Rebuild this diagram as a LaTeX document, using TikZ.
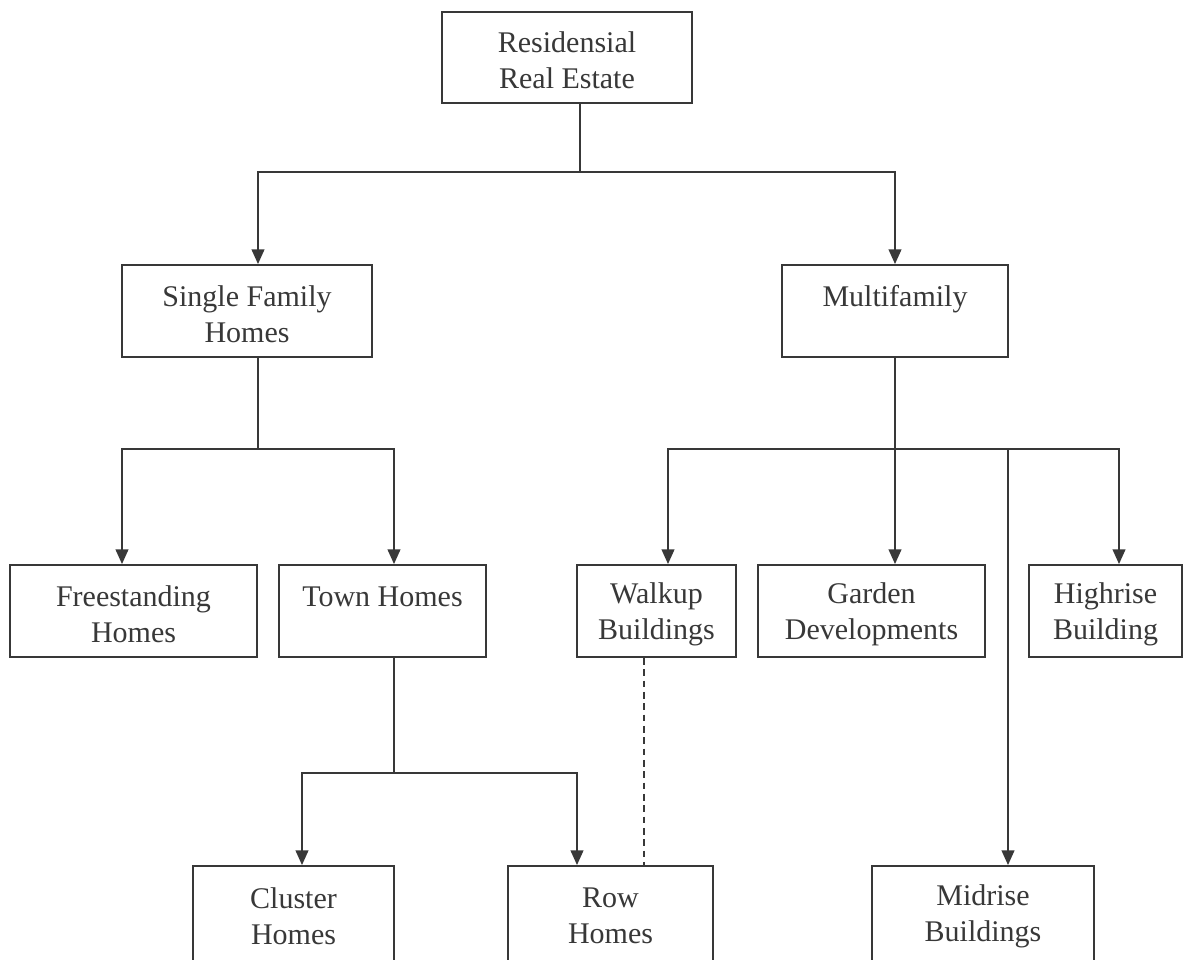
\documentclass[tikz,border=0pt]{standalone}
\usepackage{fontspec}
\setmainfont{Liberation Serif}
\usetikzlibrary{arrows.meta,calc}
\definecolor{ink}{HTML}{383838}
% taller first line, so that two-line labels sit a little low in their boxes
\newcommand\firstline{\rule{0pt}{20pt}}
\tikzset{
  box/.style={draw=ink, line width=1.4pt, rectangle, align=center, inner sep=0pt,
    text=ink, font=\fontsize{22.5}{27}\selectfont},
  link/.style={draw=ink, line width=1.4pt},
  arr/.style={link, -{Triangle[length=11pt,width=9.5pt]}},
  weak/.style={link, dash pattern=on 5pt off 3.5pt}
}
\begin{document}
\begin{tikzpicture}[x=0.75pt,y=-0.75pt]
  \clip (0,0) rectangle (1187,959);
  \fill[white] (0,0) rectangle (1187,959);

  % categories
  \node[box, minimum width=187.5pt, minimum height=68.25pt] (root) at (567,57.5) {\firstline Residensial\\Real Estate};
  \node[box, minimum width=187.5pt, minimum height=69pt] (sf) at (247,311) {\firstline Single Family\\Homes};
  \node[box, minimum width=169.5pt, minimum height=69pt] (mf) at (895,311) {\firstline Multifamily\\~};

  \node[box, minimum width=185.25pt, minimum height=69pt] (free) at (133.5,611) {\firstline Freestanding\\Homes};
  \node[box, minimum width=155.25pt, minimum height=69pt] (town) at (382.5,611) {\firstline Town Homes\\~};
  \node[box, minimum width=119.25pt, minimum height=69pt] (walk) at (656.5,611) {\firstline Walkup\\Buildings};
  \node[box, minimum width=170.25pt, minimum height=69pt] (garden) at (871.5,611) {\firstline Garden\\Developments};
  \node[box, minimum width=114.75pt, minimum height=69pt] (high) at (1105.5,611) {\firstline Highrise\\Building};

  \node[box, minimum width=150.75pt, minimum height=75pt] (cluster) at (293.5,916) {Cluster\\Homes};
  \node[box, minimum width=153.75pt, minimum height=75pt] (row) at (610.5,916) {Row\\Homes};
  \node[box, minimum width=166.5pt, minimum height=75pt] (mid) at (983,916) {Midrise\\Buildings};

  % branch points and connector ends
  \coordinate (j0) at (580,172);
  \coordinate (j1) at (258,449);
  \coordinate (j2) at (895,449);
  \coordinate (j3) at (394,773);
  \coordinate (midtop) at ($(mid.north)+(25,0)$);
  \coordinate (walkfoot) at ($(walk.south)+(-12.5,0)$);

  % root split
  \draw[link] (root.south -| j0) -- (j0);
  \draw[arr] (j0) -| (sf.north -| j1);
  \draw[arr] (j0) -| (mf.north);

  % single family split
  \draw[link] (sf.south -| j1) -- (j1);
  \draw[arr] (j1) -| ($(free.north)+(-11.5,0)$);
  \draw[arr] (j1) -| ($(town.north)+(11.5,0)$);

  % multifamily split
  \draw[link] (mf.south) -- (j2);
  \draw[arr] (j2) -| ($(walk.north)+(11.5,0)$);
  \draw[arr] (j2) -- (garden.north -| j2);
  \draw[arr] (j2) -| ($(high.north)+(13.5,0)$);
  \draw[arr] (midtop |- j2) -- (midtop);

  % town homes split
  \draw[link] (town.south -| j3) -- (j3);
  \draw[arr] (j3) -| ($(cluster.north)+(8.5,0)$);
  \draw[arr] (j3) -| ($(row.north)+(-33.5,0)$);

  % walkup to row homes
  \draw[weak] (walkfoot) -- (row.north -| walkfoot);
\end{tikzpicture}
\end{document}
